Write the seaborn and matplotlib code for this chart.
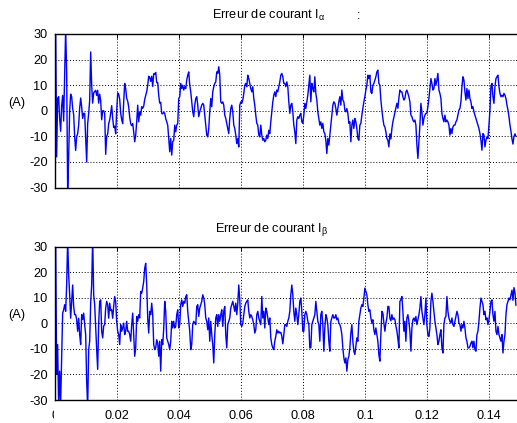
import numpy as np
import pandas as pd
import matplotlib
matplotlib.use("Agg")
import matplotlib.pyplot as plt
from matplotlib.patches import Rectangle
import seaborn as sns

# Current tracking error, alpha axis (A)
i_alpha = [
    -33, 33, -18, 5, 5.5, -3, -8, 2, 6, -4,
    14, 32, 15, -32, -18, 0, 6.5, 5.5, 1, -1.5,
    -10, -15.5, -10, -9, -5.5, 1, 5, 1.5, -3, -1,
    -1, -10, -20, -5, -1, 4, 23, 10, 3, 7,
    7.5, 8, 6, 8, 3, 6.5, 4, -3.5, 0, 0,
    -1, -17, -10, -9, -5, -3.5, -1, 2, -3, -6.5,
    -6, -9, 0, 7, 6.5, 4.5, -1, -3.5, -5, 3.5,
    10.7, 8.7, 4.8, 3.8, 1.5, -2.5, -5, -5.8, -5, -8.2,
    -12.1, -9.5, -4.3, 2.2, -4.3, -0.4, -1.7, 1.6, 1, 1.8,
    4.5, 6, 7.5, 10, 13.5, 13, 11.5, 13.5, 9.5, 14.5,
    14.3, 15, 11, 11, 6, 3, 3.3, -1, -1.2, -0.6,
    -1, -3, -4.3, -5.6, -10.8, -16, -10.8, -17.3, -12.1, -11.5,
    -5.6, -8.2, -5.6, -4.9, 4.8, 5.5, 10.7, 8.7, 10, 8.1,
    9.4, 8.7, 12, 13.9, 15.2, 10, 7.4, 3.5, -0.4, -2.3,
    2.2, 4.8, 5.5, 2.2, -2.3, -0.4, 0.9, 2.2, 2.9, 2.2,
    -1.7, -5.6, -9.5, -10.2, -6.9, -0.4, 4.8, 1.6, 7.4, 9.4,
    10.7, 11.3, 15.2, 14.6, 17.2, 13.9, 3.5, 2.9, 3.5, 2.2,
    -1.7, -3, -4.9, -6.9, -8.9, -3, 0.9, 2.2, -0.4, -5.6,
    -6.9, -9.5, -12.8, -10.8, -14.1, 2.2, 3.5, 2.9, 4.2, 6.8,
    10, 10.7, 9.4, 13.9, 12.6, 10.7, 8.7, 7.4, 9.4, 4.8,
    2.2, -1.7, -4.9, -5.6, -9.5, -10.2, -5.6, -9.5, -11.5, -10.8,
    -12.1, -11.5, -9.5, -10.8, -7.6, -8.9, -4.3, -0.4, 3.5, 6.1,
    7.4, 5.5, 8.1, 7.4, 9.4, 11.3, 13.9, 14.6, 13.3, 10.7,
    10.7, 9.4, 11.3, 9.4, 3.5, -1, 2.2, 2.9, -0.4, -5.6,
    -8.2, -12.8, -3.6, -2.3, -3, -1.7, -1, -4.3, -4.9, -1.7,
    2.9, 0.9, 3.5, 6.1, 10, 13.9, 3.5, 10.7, 8.7, 7.4,
    13.3, 6.8, 4.2, -0.4, -3, -5.6, -4.3, -6.9, -4.9, -8.2,
    -8.9, -11.5, -16.7, -10.8, -13.4, -9.5, -5.6, -1.7, 2.2, 3.5,
    2.9, 0.9, -1.7, 0.9, 3.5, 5.5, 2.2, 8.1, 4.2, 3.5,
    0.3, -0.4, 0.9, -1, -4.9, -4.3, -12.1, -5.6, -3.6, -6.9,
    -3, -4.3, -6.9, -10.8, -11.5, -5.6, -4.9, -1.7, 0.9, 3.5,
    5.5, 8.1, 10, 13.9, 12.6, 13.9, 7.4, 6.8, 10, 10.7,
    12, 13.3, 15.2, 15.9, 10.7, 10, 4.2, 0.3, -3, -5.6,
    -6.3, -8.2, -10.8, -11.5, -14.1, -9, -11, -7, -4.3, -2.5,
    -0.7, 1.2, 2.9, 1, 5, 8.1, 7.4, 7.4, 5.5, 4.2,
    4.8, 7.4, 8.1, 6.8, 5.5, 3.5, -1.7, -2.3, -3.6, -4.3,
    -3.6, -5.6, -13.4, -18.6, -12.1, -5.6, 2.9, -0.4, -5.6, -3,
    -1.7, -1, -1, 1.6, 4.8, 8.7, 12.6, 10.7, 8.1, 8.7,
    12.6, 10, 12, 14.6, 8.1, 6.8, 4.8, -1, -3, -4.3,
    -1.7, -4.3, -3.6, -4.3, -5.6, -9.5, -6.9, -8.9, -6.3, -5.6,
    -5.6, -4.3, -3.6, -1.7, 0.3, 0.9, 3.5, 9.4, 13.3, 12,
    7.4, 4.2, 8.7, 4.8, 8.1, 4.8, 3.5, 0.9, 1.6, -0.4,
    -1.7, -3, -4.3, -5.6, -6.9, -8.9, -11.5, -15.4, -8.9, -9.5,
    -14.1, -11.5, -10.2, -10.8, -5.6, 0.3, 9.4, 10.7, 5.5, 2.9,
    9.4, 12.6, 13.3, 13.9, 9.4, 6.8, 5.5, 6.1, 5.5, 6.8,
    6.1, 4.8, 2.2, 0.3, -2.3, -5.6, -8, -11, -13, -10,
    -9, -10,
]

# Current tracking error, beta axis (A)
i_beta = [
    -33, 33, -20, -8.3, -33, -18.7, -31, -13.5, 4, 5.3,
    7.3, 4.7, 15, 33, 19, 11.2, 2, 8.6, 15, 6.6,
    3.4, 3.4, 1.5, -3.1, 2, -4.4, -8.3, 3.4, 1.5, 4,
    -0.5, -4.4, -22.6, -33, -10.3, -7, 8, 15, 33, 11,
    7.3, -2, -10.3, -18, 0, 8.6, 9.2, -3.1, -5.7, -1,
    -0.5, 6, 8.6, 7.3, 2, 7.9, 5, 5.3, 2, 6.6,
    10.5, 8.5, 0.8, -3.1, -4.4, -8.3, -0.5, -3.1, -1.8, 0.1,
    -4.4, -3.1, 0.8, -3.1, -3.1, -4.4, -7, -0.5, 4, -4.4,
    -12.9, -9.6, 2.7, 0.8, 3.4, 2.1, 12.5, 11.8, 13.8, 16.4,
    21.6, 23.5, 15, 2.1, -3.8, 4.7, 3.4, 7.9, 3.4, -8.3,
    -10.3, -9.6, -6.4, -7.7, -12.9, -7, -18.7, -6.4, -8.3, -2,
    8.6, 4.7, -5.7, -7, -8.3, -10.3, -7, 0.8, -1.8, 0.8,
    -1.8, -1.2, 3.4, 5.3, -1.8, -0.5, 7.3, 9.2, 6.6, 8.6,
    7.9, 10.5, 11.2, 4.7, 0.8, -3.1, -10.3, -8.3, -0.5, 0.8,
    0.1, -0.5, 6.6, 7.3, 2.7, 6, 7.3, 8.6, 11.2, 9.9,
    7.3, 2.1, 0.8, -2.5, 2.1, -7, 0.8, -4.4, -8.3, -15.5,
    -4.4, 2.1, 3.4, -1.2, 3.4, 0.8, 3.4, 5.3, -1.2, 4.7,
    6.6, -4.4, -9.6, -0.5, 0.8, 2.1, 6, 7.3, 8.6, 6.6,
    4.7, 7.9, 3.4, 7.9, 15, 9.2, -0.5, -1.2, 0.1, 3.4,
    6.6, 7.9, 8.6, 9.2, 4.7, 2.1, 3.4, 2.7, 1.4, -0.5,
    -3.8, -2.5, 3.4, 4.7, 2.1, 0.8, -0.5, 10.5, 2.1, 4.7,
    -1.8, 6, 4.7, 2.1, -0.5, 2.1, -5.7, -8.3, -9.6, -10.3,
    -7, -5.1, -2.5, -3.8, -3.1, -3.8, -3.5, -5, -8, -4.5,
    -0.5, -0.5, -1.2, 0.8, 2.1, 4.7, 11.2, 15, 11.2, 4.7,
    0.8, 6, 3.4, -0.5, 3.4, 8.6, 9.9, 4.7, -3.1, -3.1,
    3.4, 4.7, 3.4, 0.8, -0.5, -9.6, -9.6, -0.5, 0.8, 2.1,
    3.4, 8.6, 4.7, 0.8, -0.5, -7, 3.4, 4.7, -0.5, -10.9,
    -1.8, 3.4, 2.1, -0.5, -7, -10.9, 0.8, 2.1, 3.4, 2.1,
    2.1, 3.4, 1.4, 2.1, 0.1, -0.5, -1.8, -4.4, -9.6, -13.5,
    -15.5, -13.5, -18.7, -14.2, -12.9, -9.6, -3.8, -0.5, -7, -10.9,
    -12.2, -9, -5.7, -7, 0.8, 3.4, 6, 7.3, 6.6, 9.9,
    13.8, 12.5, 11.2, 7.3, 4.7, 5.3, 2.1, 0.1, 1.4, -2.5,
    -4.4, -1.8, -4.4, -7, -12.2, -14.8, -4.4, 4.7, 4, 0.1,
    -3.1, 0.1, 2.1, 6.6, 6.6, 2, 1, 3.4, 1.5, 2.1,
    1.5, -1, -3, -6, -9.6, 8.6, 9.2, 10.5, 4.7, -3.1,
    0.8, -7, 2.1, 3.4, 0.8, -3.1, -10.9, -1.8, 1.4, 2.1,
    0.8, 2.7, -0.5, 1.4, 3.4, 6, 10.5, 4.7, 2.1, -0.5,
    3.4, 9.9, -0.5, -4.4, -5.1, -1.8, 8.6, 11.8, 8.6, 4.7,
    0.8, -1.8, -4.4, -8.3, -7, -4.4, -2.5, -9.6, -11.6, -0.5,
    2.1, 2.7, 10.5, 4.7, 2.1, 0.8, 0.1, 2.1, -0.5, -1.2,
    0.8, 2.7, 4.7, 3.4, 0.1, -0.5, -3.1, -0.5, -1.8, 0.8,
    -1.8, -5.7, -7, -9.6, -9.6, -9, -7.7, -7, -9.6, -7,
    -10.3, -10.9, -4.4, -3.1, 0.8, 6, 9.9, 8.6, 7.3, 3.4,
    4.7, 1.4, 2.1, -0.5, 1.4, 4.7, 8.6, 9.2, 3.4, 0.8,
    4.7, -3.1, -4.4, -1.2, -4.4, -5.7, -7, -4.4, -11.6, -7,
    -4.4, 3.4, 7.3, 8.6, 9.9, 9.2, 11, 13, 9, 14,
    12, 7,
]

titles = ["Erreur de courant I$_{α}$", "Erreur de courant I$_{β}$"]
y_ticks = [-30, -20, -10, 0, 10, 20, 30]
x_ticks = [0.0, 0.02, 0.04, 0.06, 0.08, 0.10, 0.12, 0.14]
x_tick_labels = ["0", "0.02", "0.04", "0.06", "0.08", "0.1", "0.12", "0.14"]
unit_label = "(A)"

# time base of the simulation samples (s)
t = np.linspace(0.0, 0.1487, len(i_alpha))
df = pd.DataFrame({"t": t, "i_alpha": i_alpha, "i_beta": i_beta})

sns.set_theme(style="white")
plt.rcParams.update({
    "font.family": ["Liberation Sans", "DejaVu Sans"],
    "mathtext.default": "regular",
    "axes.edgecolor": "black",
    "axes.linewidth": 1.0,
})

W, H = 517, 423
FS = 9.2
fig = plt.figure(figsize=(W / 100, H / 100), dpi=100)
fig.patch.set_facecolor("white")


def fx(px):
    return px / W


def fy(py):
    return 1 - py / H


x0 = 54.65
x1 = 520.0
ax_top = fig.add_axes([fx(x0), fy(187.6), (x1 - x0) / W, (187.6 - 34.0) / H])
ax_bot = fig.add_axes([fx(x0), fy(400.0), (x1 - x0) / W, (400.0 - 246.7) / H])

panels = [(ax_top, "i_alpha", titles[0], 212, 19.3, 103),
          (ax_bot, "i_beta", titles[1], 215, 231.7, 315)]

for ax, col, title, tx, ty, label_y in panels:
    sns.lineplot(data=df, x="t", y=col, ax=ax, color="#0000ff", linewidth=1.0,
                 estimator=None, sort=False)
    ax.set_xlim(0, 0.15)
    ax.set_ylim(-30, 30)
    ax.set_xlabel("")
    ax.set_ylabel("")
    ax.set_yticks(y_ticks)
    ax.set_yticklabels([str(v) for v in y_ticks])
    ax.set_xticks(x_ticks)
    ax.grid(True, color="black", linestyle=(0, (1, 2)), linewidth=0.7)
    ax.set_axisbelow(True)
    ax.tick_params(axis="both", direction="in", length=3, width=0.7,
                   labelsize=FS, colors="black", top=True, right=True)
    ax.tick_params(axis="y", pad=5)
    ax.tick_params(axis="x", pad=7.5)
    for s in ax.spines.values():
        s.set_color("black")
        s.set_linewidth(1.0)
    fig.text(fx(tx), fy(ty), title, ha="left", va="baseline",
             fontsize=FS, color="black")
    fig.text(fx(16.5), fy(label_y), unit_label, ha="center", va="center",
             fontsize=FS, color="black")

# trailing colon of the first heading
fig.text(fx(357), fy(19.3), ":", ha="left", va="baseline", fontsize=FS, color="black")

ax_top.set_xticklabels([])
ax_bot.set_xticklabels(x_tick_labels)

# the right half of the time-origin label is masked just below the frame
fig.patches.append(Rectangle((fx(53.9), fy(421)), fx(8), 17 / H,
                             transform=fig.transFigure, facecolor="white",
                             edgecolor="none", zorder=10))

fig.savefig("out.png", dpi=100, facecolor="white")
